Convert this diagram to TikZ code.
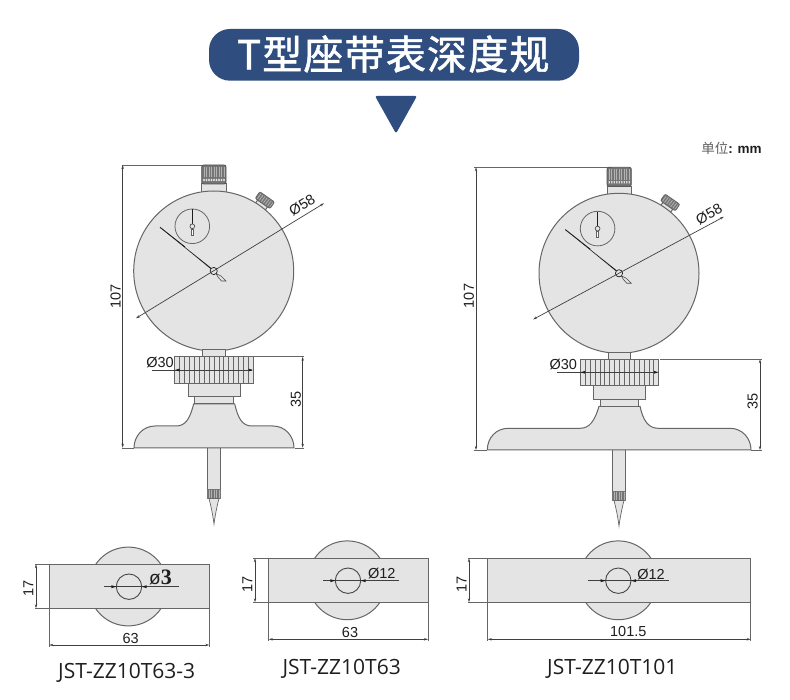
\documentclass[tikz,border=0pt]{standalone}
\usepackage{fontspec}
\setmainfont{Liberation Sans}
\newfontfamily\cjk{Noto Sans CJK SC}
\newfontfamily\cjktitle[FakeBold=1.4,LetterSpace=3]{Noto Sans CJK SC}
\newfontfamily\capfont{Open Sans}
\newfontfamily\serifd{Liberation Serif}
\usetikzlibrary{arrows.meta}
\definecolor{navy}{HTML}{2F4D7E}
\definecolor{body}{HTML}{E4E4E4}
\definecolor{edge}{HTML}{666666}
\definecolor{ink}{HTML}{1E1E1E}
\tikzset{
  part/.style={draw=edge,fill=body,line width=1pt},
  thin part/.style={draw=edge,line width=.5pt},
  dimline/.style={draw=ink!85,line width=.7pt},
  extline/.style={draw=edge,line width=.8pt},
  both tips/.style={{Stealth[length=4pt,width=2.4pt]}-{Stealth[length=4pt,width=2.4pt]}},
  dimtext/.style={text=ink,font=\fontsize{14.5}{16}\selectfont,inner sep=0pt},
  caption/.style={text=ink,font=\capfont\fontsize{21}{24}\selectfont,inner sep=0pt},
}
\newcommand{\dialhead}{%
  \begin{scope}[shift={(264.3,201)},rotate=-35]
    \draw[part] (-6,3) rectangle (6,7);
    \fill[edge!90] (-9,-5) rectangle (9,3);
    \foreach \k in {-7,-4.5,...,8}{\draw[white!70!black,line width=.8pt] (\k,-4.5) -- (\k,2.5);}
    \draw[draw=edge,line width=.8pt,rounded corners=1.5pt] (-9,-5) rectangle (9,3);
  \end{scope}
  \draw[part] (201.7,184) rectangle (226,193);
  \fill[edge!90,rounded corners=2pt] (201.7,165) rectangle (226,184);
  \foreach \k in {204,206.5,...,224.5}{\draw[white!70!black,line width=.8pt] (\k,167) -- (\k,177.5);}
  \foreach \k in {203.5,206,...,225}{\draw[white!90!black,line width=.7pt] (\k,179) -- +(1,2) (\k,181) -- +(1,-2);}
  \draw[draw=edge!80!black,line width=.8pt,rounded corners=2pt] (201.7,165) rectangle (226,184);
  \draw[part] (213.7,271) circle (80);
  \draw[thin part,line width=.8pt] (192.3,226.3) circle (17.3);
  \draw[ink,line width=.7pt] (192.3,209.3) -- (192.3,223.7);
  \draw[ink!85,line width=.6pt,fill=body] (192.3,226.3) circle (2.4);
  \draw[ink!70,line width=.6pt,fill=white] (191.3,229) -- (191.3,235.5) -- (193.3,235.5) -- (193.3,229) -- cycle;
  \fill[ink] (160,227.3) -- (210.5,268.8) -- (211.3,268) -- cycle;
  \draw[ink,line width=.9pt] (160,227.3) -- (185,247);
  \draw[ink!80,line width=.6pt,fill=body] (216,273.5) -- (221,276) -- (226,281) -- (221.5,281) -- (218,277) -- cycle;
  \draw[ink,line width=.7pt,fill=body] (213.7,271) circle (3.6);
}
\newcommand{\stemrings}[2]{%
  \begin{scope}[shift={(#1,#2)}]
    \draw[part] (-11.3,-6.7) rectangle (11.3,0);
    \fill[body] (-39.3,0) rectangle (39.3,26.7);
    \foreach \k in {-34.4,-29.5,...,35}{\draw[edge,line width=.6pt] (\k,0) -- (\k,26.7);}
    \draw[edge,line width=1pt] (-39.3,0) rectangle (39.3,26.7);
    \draw[part] (-26,26.7) rectangle (26,40);
    \draw[part] (-19.3,40) rectangle (19.3,47.3);
  \end{scope}
}
\newcommand{\probe}[2]{%
  \begin{scope}[shift={(#1,#2)}]
    \fill[body] (-6.5,0) rectangle (6.5,40.5);
    \draw[edge,line width=.8pt] (-6.5,0) -- (-6.5,40.5) (6.5,0) -- (6.5,40.5);
    \fill[edge!90] (-7.3,40.5) rectangle (7.3,50.5);
    \foreach \k in {-5,-2.5,...,5.5}{\draw[white!70!black,line width=.6pt] (\k,41.5) -- (\k,49.5);}
    \draw[part,line width=.7pt] (-5,50.5) .. controls (-3,58) and (-1,68) .. (0,76) .. controls (1,68) and (3,58) .. (5,50.5) -- cycle;
  \end{scope}
}
\newcommand{\planview}[8]{%
  \draw[part] (#5,#6) circle (39.4);
  \draw[part] (#1,#2) rectangle (#3,#4);
  \draw[edge!70!black,line width=.9pt] (#7,#8) circle (12.7);
}
\newcommand{\holedim}[4]{%
  \draw[dimline] (#1,#4) -- (#2,#4);
  \fill[ink] (#3-12.7,#4) -- +(-5,-1.5) -- +(-5,1.5) -- cycle;
  \fill[ink] (#3+12.7,#4) -- +(5,-1.5) -- +(5,1.5) -- cycle;
}
\begin{document}
\begin{tikzpicture}[x=1pt,y=-1pt]
\useasboundingbox (0,0) rectangle (790,700);
\fill[white] (0,0) rectangle (790,700);

% header
\fill[navy,rounded corners=21pt] (209,29) rectangle (579,80.7);
\node[text=white,font=\cjktitle\fontsize{40}{44}\selectfont,inner sep=0pt] (title) at (393.3,54) {T型座带表深度规};
\fill[navy,rounded corners=2pt] (375,96) -- (417,96) -- (396,133.5) -- cycle;
\node[inner sep=0pt,font=\fontsize{13.5}{15}\selectfont] (unit) at (731.5,148.5) {\textcolor{ink!70}{\cjk 单位}\textcolor{ink}{\textbf{: mm}}};

% left gauge
\draw[extline] (121.7,165) -- (205,165);
\draw[extline] (121.7,448) -- (134,448);
\draw[dimline,both tips] (122.7,165) -- (122.7,447.7);
\probe{214}{448}
\draw[part] (193.7,404) .. controls (190,418) and (186,426) .. (176,426) -- (155,426) .. controls (143,426) and (134,436) .. (134,448) -- (294,448) .. controls (294,436) and (285,426) .. (273,426) -- (252,426) .. controls (242,426) and (238,418) .. (234.7,404) -- cycle;
\dialhead
\stemrings{214}{356.7}
\draw[dimline,both tips] (136,318.3) -- (324,203.3);
\node[dimtext,rotate=31] (l58) at (302,205) {Ø58};
\draw[extline] (254,356.7) -- (304.3,356.7);
\draw[extline] (295,448) -- (304.3,448);
\draw[dimline,both tips] (302.7,356.7) -- (302.7,447.7);
\node[dimtext,rotate=90] (l35) at (296,399.3) {35};
\node[dimtext,rotate=90] (l107) at (115.7,296.7) {107};
\draw[dimline] (151.7,370) -- (251.7,370);
\fill[ink] (175,370) -- +(4.5,-1.4) -- +(4.5,1.4) -- cycle;
\fill[ink] (253,370) -- +(-4.5,-1.4) -- +(-4.5,1.4) -- cycle;
\node[dimtext] (l30) at (160,362.5) {Ø30};

% right gauge
\draw[extline] (474.3,167.3) -- (612,167.3);
\draw[extline] (474.3,450) -- (487.3,450);
\draw[dimline,both tips] (476,167.3) -- (476,450);
\probe{619}{450}
\draw[part] (599,406.3) .. controls (595,420) and (590,428.3) .. (580,428.3) -- (508.3,428.3) .. controls (496,428.3) and (487.3,438) .. (487.3,450) -- (751,450) .. controls (751,438) and (742,428.3) .. (730,428.3) -- (658.3,428.3) .. controls (648,428.3) and (643,420) .. (640,406.3) -- cycle;
\begin{scope}[shift={(405.3,2.3)}]
\dialhead
\end{scope}
\stemrings{619.5}{359.3}
\draw[dimline,both tips] (533,319.5) -- (724,216.7);
\node[dimtext,rotate=29] (r58) at (709,214) {Ø58};
\draw[extline] (660,359.3) -- (762.3,359.3);
\draw[extline] (751,450) -- (762.3,450);
\draw[dimline,both tips] (760,359.3) -- (760,450);
\node[dimtext,rotate=90] (r35) at (752.7,401) {35};
\node[dimtext,rotate=90] (r107) at (469,296) {107};
\draw[dimline] (557.3,372.3) -- (656.7,372.3);
\fill[ink] (580.5,372.3) -- +(4.5,-1.4) -- +(4.5,1.4) -- cycle;
\fill[ink] (658.5,372.3) -- +(-4.5,-1.4) -- +(-4.5,1.4) -- cycle;
\node[dimtext] (r30) at (563.3,364.5) {Ø30};

% plan views
\planview{49.3}{564.3}{209.3}{608.3}{128.3}{586.5}{129}{586.7}
\holedim{104.3}{179.3}{129}{586.7}
\node[inner sep=0pt,text=ink,anchor=base] (p1h) at (160.5,584.5) {\fontsize{19}{20}\selectfont ø\serifd\bfseries\fontsize{22}{22}\selectfont 3};
\draw[extline] (35,564.3) -- (49.3,564.3) (35,608.3) -- (49.3,608.3);
\draw[dimline,both tips] (36,564.3) -- (36,608.3);
\node[dimtext,rotate=90] (p1a) at (28.3,588) {17};
\draw[extline] (49.3,608.3) -- (49.3,647) (209.3,608.3) -- (209.3,647);
\draw[dimline,both tips] (49.3,645) -- (209.3,645);
\node[dimtext] (p1b) at (130.7,638.5) {63};
\node[caption] (c1) at (126.7,672.7) {JST-ZZ10T63-3};

\planview{268.7}{558.3}{428}{602.3}{347.3}{580.3}{348}{580.7}
\holedim{323.3}{399}{348}{580.7}
\node[dimtext] (p2h) at (381.7,573) {Ø12};
\draw[extline] (253.3,558.3) -- (268.7,558.3) (253.3,602.3) -- (268.7,602.3);
\draw[dimline,both tips] (255,558.3) -- (255,602.3);
\node[dimtext,rotate=90] (p2a) at (247.3,584) {17};
\draw[extline] (268.7,602.3) -- (268.7,641) (428,602.3) -- (428,641);
\draw[dimline,both tips] (268.7,639.3) -- (428,639.3);
\node[dimtext] (p2b) at (350,632.5) {63};
\node[caption] (c2) at (341.7,669) {JST-ZZ10T63};

\planview{487.7}{558.3}{750.7}{602.3}{618.3}{580.3}{618.3}{580.7}
\holedim{587.7}{668.7}{618.3}{580.7}
\node[dimtext] (p3h) at (651,574) {Ø12};
\draw[extline] (467.7,558.3) -- (487.7,558.3) (467.7,602.3) -- (487.7,602.3);
\draw[dimline,both tips] (469,558.3) -- (469,602.3);
\node[dimtext,rotate=90] (p3a) at (461.7,584) {17};
\draw[extline] (487.7,602.3) -- (487.7,641) (750.7,602.3) -- (750.7,641);
\draw[dimline,both tips] (487.7,639.3) -- (750.7,639.3);
\node[dimtext] (p3b) at (628.3,632) {101.5};
\node[caption] (c3) at (612.3,669.3) {JST-ZZ10T101};
\end{tikzpicture}
\end{document}
